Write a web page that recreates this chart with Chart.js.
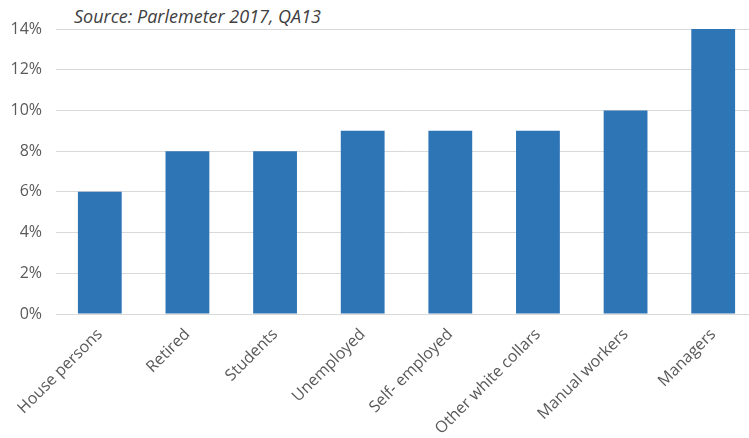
<!DOCTYPE html>
<html>
<head>
<meta charset="utf-8">
<script src="https://cdn.jsdelivr.net/npm/chart.js@4.4.0/dist/chart.umd.min.js"></script>
<style>
  html, body { margin: 0; padding: 0; background: #fff; overflow: hidden; }
  #caja { position: relative; width: 749px; height: 438px; overflow: hidden; }
  #fuente {
    position: absolute; left: 74px; top: 4px;
    font-family: "Open Sans", sans-serif; font-style: italic;
    font-size: 18px; color: #404040; background: #fff; padding-right: 4px;
  }
</style>
</head>
<body>
<div id="caja">
  <canvas id="grafico" width="757" height="438"></canvas>
  <div id="fuente">Source: Parlemeter 2017, QA13</div>
</div>
<script>
const categorias = ["House persons", "Retired", "Students", "Unemployed", "Self- employed", "Other white collars", "Manual workers", "Managers"];
const valores = [6, 8, 8, 9, 9, 9, 10, 14];
const marcasY = [0, 2, 4, 6, 8, 10, 12, 14];

const grafico = document.getElementById("grafico");

new Chart(grafico, {
  type: "bar",
  data: {
    labels: categorias,
    datasets: [
      {
        data: valores,
        backgroundColor: "#2E75B6",
        barPercentage: 0.5,
        categoryPercentage: 1,
      },
    ],
  },
  options: {
    responsive: false,
    animation: false,
    layout: { padding: { top: 29, right: 0, left: 0, bottom: 0 } },
    plugins: { legend: { display: false }, tooltip: { enabled: false } },
    scales: {
      x: {
        grid: { display: false },
        border: { display: false },
        ticks: {
          autoSkip: false,
          minRotation: 45,
          maxRotation: 45,
          color: "#595959",
          font: { family: "Open Sans", size: 16 },
        },
        afterFit: (eje) => { eje.height = 124; },
      },
      y: {
        min: 0,
        max: 14,
        afterBuildTicks: (eje) => { eje.ticks = marcasY.map(v => ({ value: v })); },
        grid: { color: "#d9d9d9", drawTicks: false },
        border: { display: false },
        ticks: {
          padding: 14,
          color: "#595959",
          font: { family: "Open Sans", size: 16 },
          callback: (v) => v + "%",
        },
        afterFit: (eje) => { eje.width = 56; },
      },
    },
  },
});
</script>
</body>
</html>
